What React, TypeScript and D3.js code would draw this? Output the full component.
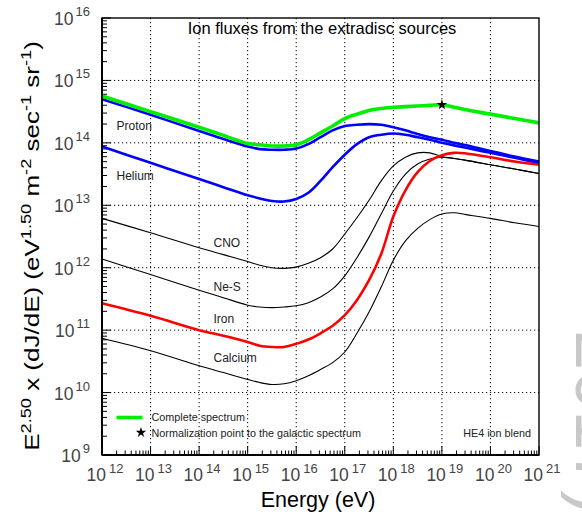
import React from "react";
import * as d3 from "d3";

// log10(Energy / eV) sample points shared by all series
const ENERGY_LOG = [12, 13, 14, 14.5, 15, 15.25, 15.5, 15.75, 16, 16.25, 16.5, 16.75, 17, 17.25, 17.5, 17.75, 18, 18.25, 18.5, 18.75, 19, 19.25, 19.5, 20, 20.5, 21];

// log10 of E^2.5 dJ/dE for each component
const COMPLETE = [14.75, 14.5, 14.25, 14.12, 13.99, 13.97, 13.95, 13.95, 13.97, 14.05, 14.16, 14.27, 14.39, 14.46, 14.52, 14.55, 14.57, 14.58, 14.59, 14.6, 14.61, 14.57, 14.53, 14.46, 14.39, 14.32];
const PROTON = [14.7, 14.45, 14.19, 14.06, 13.94, 13.9, 13.89, 13.89, 13.91, 13.98, 14.09, 14.2, 14.27, 14.29, 14.3, 14.29, 14.25, 14.2, 14.14, 14.09, 14.05, 14.0, 13.96, 13.87, 13.78, 13.7];
const HELIUM = [13.94, 13.68, 13.42, 13.29, 13.16, 13.11, 13.07, 13.06, 13.1, 13.2, 13.39, 13.61, 13.81, 13.98, 14.09, 14.13, 14.15, 14.13, 14.09, 14.05, 14.0, 13.96, 13.92, 13.84, 13.76, 13.67];
const CNO = [12.79, 12.56, 12.32, 12.21, 12.1, 12.04, 12.0, 11.99, 12.01, 12.07, 12.16, 12.3, 12.54, 12.8, 13.08, 13.39, 13.63, 13.77, 13.84, 13.84, 13.78, 13.75, 13.72, 13.65, 13.58, 13.51];
const NES = [12.14, 11.89, 11.64, 11.52, 11.4, 11.37, 11.36, 11.37, 11.39, 11.44, 11.53, 11.66, 11.87, 12.16, 12.49, 12.86, 13.23, 13.5, 13.66, 13.74, 13.77, 13.75, 13.72, 13.65, 13.58, 13.51];
const IRON = [11.43, 11.23, 11.0, 10.91, 10.81, 10.75, 10.73, 10.73, 10.78, 10.85, 10.95, 11.07, 11.24, 11.48, 11.8, 12.22, 12.82, 13.24, 13.53, 13.71, 13.8, 13.84, 13.83, 13.77, 13.7, 13.65];
const CALCIUM = [10.87, 10.67, 10.43, 10.32, 10.21, 10.16, 10.13, 10.14, 10.19, 10.27, 10.37, 10.48, 10.65, 10.95, 11.29, 11.69, 12.12, 12.43, 12.63, 12.77, 12.86, 12.88, 12.85, 12.79, 12.72, 12.66];

const NORM_POINT = [19, 14.61];

const X_DECADES = [12, 13, 14, 15, 16, 17, 18, 19, 20, 21];
const Y_DECADES = [9, 10, 11, 12, 13, 14, 15, 16];

const TITLE = "Ion fluxes from the extradisc sources";
const LEGEND_LABELS = ["Complete spectrum", "Normalization point to the galactic spectrum"];
const NOTE = "HE4 ion blend";
const WATERMARK = "PoS(ICRC2017)";

const FONT = "'Liberation Sans', Arial, Helvetica, sans-serif";

export default function App() {
  const W = 582, H = 518;
  const L = 102, R = 539, T = 18, B = 455;
  const x = d3.scaleLog().domain([1e12, 1e21]).range([L, R]);
  const y = d3.scaleLog().domain([1e9, 1e16]).range([B, T]);

  const line = d3
    .line<[number, number]>()
    .x((d) => x(Math.pow(10, d[0])))
    .y((d) => y(Math.pow(10, d[1])))
    .curve(d3.curveCatmullRom.alpha(0.5));

  const mk = (vals: number[]) => line(ENERGY_LOG.map((e, i) => [e, vals[i]] as [number, number])) || "";

  const series = [
    { v: PROTON, c: "#0000ff", w: 2.6 },
    { v: HELIUM, c: "#0000ff", w: 2.6 },
    { v: CNO, c: "#000", w: 1.1 },
    { v: NES, c: "#000", w: 1.1 },
    { v: CALCIUM, c: "#000", w: 1.1 },
    { v: IRON, c: "#ff0000", w: 2.6 },
    { v: COMPLETE, c: "#00ee00", w: 3.6 },
  ];

  const minorX: number[] = [];
  X_DECADES.slice(0, -1).forEach((d) => {
    for (let k = 2; k <= 9; k++) minorX.push(k * Math.pow(10, d));
  });
  const minorY: number[] = [];
  Y_DECADES.slice(0, -1).forEach((d) => {
    for (let k = 2; k <= 9; k++) minorY.push(k * Math.pow(10, d));
  });

  const labels = [
    { t: "Proton", x: 116.5, y: 130 },
    { t: "Helium", x: 116.5, y: 180 },
    { t: "CNO", x: 213.5, y: 246.5 },
    { t: "Ne-S", x: 213.5, y: 290.5 },
    { t: "Iron", x: 213.5, y: 323 },
    { t: "Calcium", x: 213.5, y: 361.5 },
  ];

  const star = d3.symbol().type(d3.symbolStar).size(34)() || "";

  return (
    <svg width={W} height={H} style={{ position: "absolute", left: 0, top: 0, background: "#fff" }} fontFamily={FONT}>
      <defs>
        <clipPath id="wmclip">
          <rect x={545} y={326} width={40} height={192} />
        </clipPath>
      </defs>
      <rect x={0} y={0} width={W} height={H} fill="#fff" />
      {/* grid */}
      {X_DECADES.slice(1, -1).map((d) => (
        <line key={"gx" + d} x1={x(Math.pow(10, d))} x2={x(Math.pow(10, d))} y1={T} y2={B} stroke="#000" strokeWidth={1} strokeDasharray="1.2 2.8" />
      ))}
      {Y_DECADES.slice(1, -1).map((d) => (
        <line key={"gy" + d} x1={L} x2={R} y1={y(Math.pow(10, d))} y2={y(Math.pow(10, d))} stroke="#000" strokeWidth={1} strokeDasharray="1.2 2.8" />
      ))}
      {/* ticks */}
      {X_DECADES.map((d) => (
        <line key={"tx" + d} x1={x(Math.pow(10, d))} x2={x(Math.pow(10, d))} y1={B} y2={B - 9} stroke="#000" strokeWidth={1} />
      ))}
      {minorX.map((v, i) => (
        <line key={"mx" + i} x1={x(v)} x2={x(v)} y1={B} y2={B - 4.5} stroke="#000" strokeWidth={1} />
      ))}
      {Y_DECADES.map((d) => (
        <line key={"ty" + d} x1={L} x2={L + 9} y1={y(Math.pow(10, d))} y2={y(Math.pow(10, d))} stroke="#000" strokeWidth={1} />
      ))}
      {minorY.map((v, i) => (
        <line key={"my" + i} x1={L} x2={L + 5} y1={y(v)} y2={y(v)} stroke="#000" strokeWidth={1} />
      ))}
      {/* curves */}
      {series.map((s, i) => (
        <path key={"s" + i} d={mk(s.v)} fill="none" stroke={s.c} strokeWidth={s.w} strokeLinejoin="round" />
      ))}
      <path d={star} transform={`translate(${x(Math.pow(10, NORM_POINT[0]))},${y(Math.pow(10, NORM_POINT[1]))})`} fill="#000" />
      {/* frame */}
      <rect x={L} y={T} width={R - L} height={B - T} fill="none" stroke="#000" strokeWidth={1.4} />
      <line x1={L} x2={L} y1={T} y2={B} stroke="#000" strokeWidth={2} />
      <line x1={L} x2={R} y1={B} y2={B} stroke="#000" strokeWidth={2} />
      {/* curve labels */}
      {labels.map((l) => (
        <text key={l.t} x={l.x} y={l.y} fontSize={12} fill="#222">{l.t}</text>
      ))}
      {/* title */}
      <text x={322} y={34} fontSize={16.5} textAnchor="middle" fill="#000">{TITLE}</text>
      {/* legend */}
      <line x1={116.5} x2={142.5} y1={417.5} y2={417.5} stroke="#00ee00" strokeWidth={3.6} />
      <text x={151.5} y={420.5} fontSize={10.8} fill="#222">{LEGEND_LABELS[0]}</text>
      <path d={star} transform="translate(141,432.5)" fill="#000" />
      <text x={151.5} y={436.5} fontSize={10.8} fill="#222">{LEGEND_LABELS[1]}</text>
      <text x={531} y={436.5} fontSize={10.8} fill="#222" textAnchor="end">{NOTE}</text>
      {/* x tick labels */}
      {X_DECADES.map((d) => (
        <text key={"lx" + d} x={x(Math.pow(10, d)) - 15.5} y={481} fontSize={17.5} fill="#444">
          10<tspan dx={3} dy={-8} fontSize={13}>{d}</tspan>
        </text>
      ))}
      {/* y tick labels */}
      {Y_DECADES.map((d) => (
        <text key={"ly" + d} x={90} y={y(Math.pow(10, d)) + 7} fontSize={17.5} fill="#444" textAnchor="end">
          10<tspan dx={2} dy={-9} fontSize={13}>{d}</tspan>
        </text>
      ))}
      {/* axis titles */}
      <text x={318} y={507} fontSize={21.5} textAnchor="middle" fill="#000">Energy (eV)</text>
      <text transform="translate(39,246) rotate(-90) scale(1.3,1)" fontSize={20} textAnchor="middle" fill="#000">
        E<tspan dy={-8} fontSize={14}>2.50</tspan>
        <tspan dy={8}> x (dJ/dE)  (eV</tspan>
        <tspan dy={-8} fontSize={14}>1.50</tspan>
        <tspan dy={8}> m</tspan>
        <tspan dy={-8} fontSize={14}>-2</tspan>
        <tspan dy={8}> sec</tspan>
        <tspan dy={-8} fontSize={14}>-1</tspan>
        <tspan dy={8}> sr</tspan>
        <tspan dy={-8} fontSize={14}>-1</tspan>
        <tspan dy={8}>)</tspan>
      </text>
      {/* page watermark sliver */}
      <g clipPath="url(#wmclip)">
        <text transform="translate(576,-6) rotate(90)" fontSize={72} fill="#c8c8c8">{WATERMARK}</text>
      </g>
    </svg>
  );
}
